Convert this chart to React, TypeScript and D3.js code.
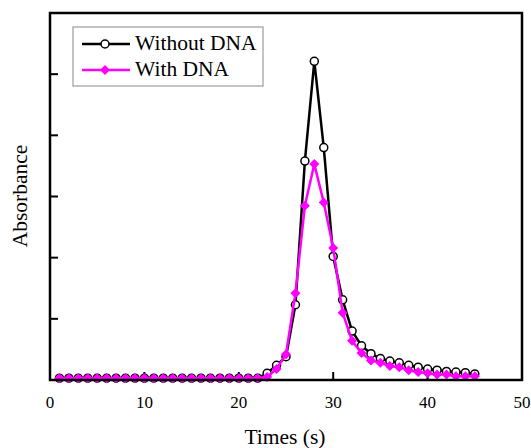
import React from 'react';
import * as d3 from 'd3';

// time points (s)
const times = [1, 2, 3, 4, 5, 6, 7, 8, 9, 10, 11, 12, 13, 14, 15, 16, 17, 18, 19, 20, 21, 22, 23, 24, 25, 26, 27, 28, 29, 30, 31, 32, 33, 34, 35, 36, 37, 38, 39, 40, 41, 42, 43, 44, 45];

const withoutDna = [0.03, 0.03, 0.03, 0.03, 0.03, 0.03, 0.03, 0.03, 0.03, 0.03, 0.03, 0.03, 0.03, 0.03, 0.03, 0.03, 0.03, 0.03, 0.03, 0.03, 0.03, 0.03,
  0.11, 0.24, 0.38, 1.23, 3.58, 5.21, 3.8, 2.02, 1.31, 0.8, 0.56, 0.43, 0.35, 0.31, 0.28, 0.24, 0.21, 0.18, 0.16, 0.14, 0.13, 0.12, 0.1];

const withDna = [0.03, 0.03, 0.03, 0.03, 0.03, 0.03, 0.03, 0.03, 0.03, 0.03, 0.03, 0.03, 0.03, 0.03, 0.03, 0.03, 0.03, 0.03, 0.03, 0.03, 0.03, 0.03,
  0.05, 0.18, 0.42, 1.42, 2.85, 3.53, 2.9, 2.16, 1.1, 0.64, 0.44, 0.32, 0.28, 0.23, 0.21, 0.16, 0.13, 0.11, 0.09, 0.09, 0.06, 0.06, 0.06];

const xTicks = [0, 10, 20, 30, 40, 50];
const yTicks = [1, 2, 3, 4, 5];

const font = '"Liberation Serif", "Times New Roman", serif';

const left = 50;
const right = 522;
const top = 13;
const bottom = 380;

export default function App() {
  const x = d3.scaleLinear().domain([0, 50]).range([left, right]);
  const y = d3.scaleLinear().domain([0, 6]).range([bottom, top]);

  const line = d3.line<number>()
    .x((d, i) => x(times[i]))
    .y(d => y(d));

  const diamond = (cx: number, cy: number) => {
    const r = 5;
    return `M${cx},${cy - r}L${cx + r},${cy}L${cx},${cy + r}L${cx - r},${cy}Z`;
  };

  return (
    <svg width={531} height={448} style={{ position: 'absolute', left: 0, top: 0 }}>
      <rect width={531} height={448} fill="white" />

      {/* ticks, pointing inward */}
      {xTicks.slice(1, -1).map(t => (
        <line key={'xt' + t} x1={x(t)} x2={x(t)} y1={bottom} y2={bottom - 8} stroke="black" strokeWidth={2} />
      ))}
      {yTicks.map(t => (
        <line key={'yt' + t} x1={left} x2={left + 8} y1={y(t)} y2={y(t)} stroke="black" strokeWidth={2} />
      ))}

      {/* without DNA */}
      <path d={line(withoutDna) || ''} fill="none" stroke="black" strokeWidth={2.5} />
      {withoutDna.map((v, i) => (
        <circle key={'c' + i} cx={x(times[i])} cy={y(v)} r={4} fill="white" stroke="black" strokeWidth={1.5} />
      ))}

      {/* with DNA */}
      <path d={line(withDna) || ''} fill="none" stroke="#ff00ff" strokeWidth={2.5} />
      {withDna.map((v, i) => (
        <path key={'d' + i} d={diamond(x(times[i]), y(v))} fill="#ff00ff" />
      ))}

      {/* frame */}
      <rect x={left} y={top} width={right - left} height={bottom - top} fill="none" stroke="black" strokeWidth={2.5} />

      {xTicks.map(t => (
        <text key={'xl' + t} x={x(t)} y={408} textAnchor="middle" fontFamily={font} fontSize={17}>{t}</text>
      ))}
      <text x={285} y={444} textAnchor="middle" fontFamily={font} fontSize={21.5}>Times (s)</text>
      <text transform="translate(27,196) rotate(-90)" textAnchor="middle" fontFamily={font} fontSize={21.5}>Absorbance</text>

      {/* legend */}
      <rect x={73} y={27} width={190} height={59} fill="white" stroke="#888" strokeWidth={1} />
      <line x1={82} x2={130} y1={44} y2={44} stroke="black" strokeWidth={2.5} />
      <circle cx={105} cy={44} r={4} fill="white" stroke="black" strokeWidth={1.5} />
      <text x={135} y={50} fontFamily={font} fontSize={21.5}>Without DNA</text>
      <line x1={82} x2={130} y1={70} y2={70} stroke="#ff00ff" strokeWidth={2.5} />
      <path d={diamond(105, 70)} fill="#ff00ff" />
      <text x={135} y={76} fontFamily={font} fontSize={21.5}>With DNA</text>
    </svg>
  );
}
